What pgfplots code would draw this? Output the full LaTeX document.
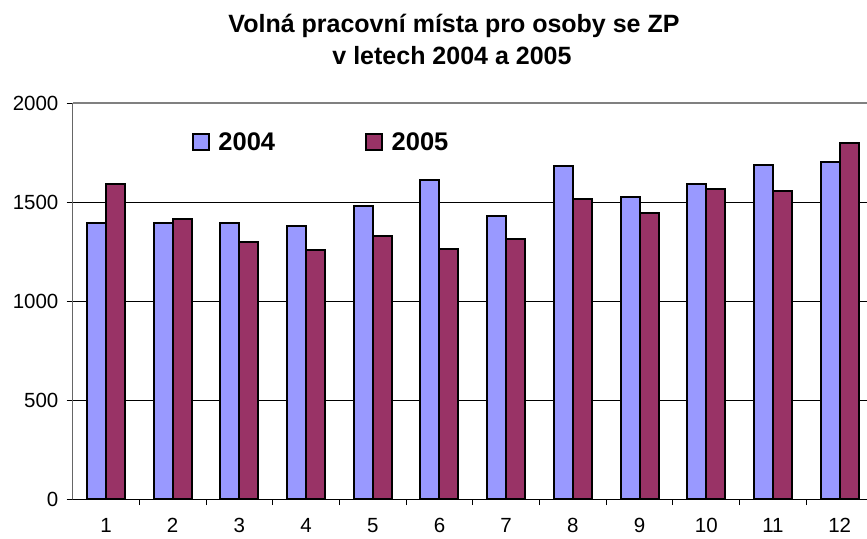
\documentclass[border=0pt]{standalone}
\usepackage{fontspec}
\setmainfont{Liberation Sans}
\usepackage{pgfplots}
\pgfplotsset{compat=1.18}
\definecolor{c2004}{HTML}{9999FF}
\definecolor{c2005}{HTML}{993366}
\begin{document}
\begin{tikzpicture}[x=1pt,y=1pt]
\useasboundingbox (0,0) rectangle (867,538);
\node[anchor=base, font=\bfseries\fontsize{25}{30}\selectfont] at (454,505) {Volná pracovní místa pro osoby se ZP};
\node[anchor=base, font=\bfseries\fontsize{25}{30}\selectfont] at (452,473) {v letech 2004 a 2005};
\begin{axis}[
  at={(72.6pt,39pt)}, anchor=south west,
  scale only axis, width=794.4pt, height=396pt,
  xmin=0.5, xmax=12.41, ymin=0, ymax=2000,
  axis lines*=left,
  ybar,
  x axis line style={black, line width=1pt},
  y axis line style={black!60, line width=1.2pt},
  xtick={1,...,12},
  minor x tick num=1,
  every major x tick/.append style={draw=none},
  every minor x tick/.append style={black, line width=0.9pt},
  minor tick length=6pt,
  major tick length=6pt,
  tick align=outside,
  ytick={0,500,1000,1500,2000},
  every major y tick/.append style={black, line width=0.9pt},
  ymajorgrids,
  grid style={black, line width=0.8pt},
  /pgf/number format/assume math mode=true,
  /pgf/number format/1000 sep={},
  ticklabel style={font=\fontsize{20.5}{24}\selectfont},
  yticklabel style={inner sep=0pt, xshift=-8pt},
  xticklabel style={inner sep=0pt, anchor=north, yshift=-13pt},
  legend columns=2,
  legend image code/.code={\draw[#1, line width=1.8pt] (0pt,-8pt) rectangle (16pt,8pt);},
  legend style={draw=none, fill=none, at={(0.15,0.9015)}, anchor=west,
    font=\bfseries\fontsize{25.5}{30}\selectfont, inner sep=0pt,
    /tikz/every odd column/.append style={column sep=6.7pt},
    /tikz/every even column/.append style={column sep=88pt}},
]
\addplot[fill=c2004, draw=black, line width=2pt, bar width=0.285, bar shift=-0.1425]
  coordinates {(1,1395) (2,1394) (3,1394) (4,1377) (5,1481) (6,1611) (7,1429) (8,1682) (9,1524) (10,1591) (11,1688) (12,1702)};
\addplot[fill=c2005, draw=black, line width=2pt, bar width=0.285, bar shift=0.1425]
  coordinates {(1,1591) (2,1416) (3,1300) (4,1258) (5,1330) (6,1261) (7,1315) (8,1515) (9,1443) (10,1564) (11,1557) (12,1800)};
\legend{2004,2005}
\draw[black!50, line width=2pt] (rel axis cs:0,1) -- (rel axis cs:1,1);
\draw[black!60, line width=1.2pt] (rel axis cs:0,0) -- ++(0pt,-6pt);
\end{axis}
\end{tikzpicture}
\end{document}
